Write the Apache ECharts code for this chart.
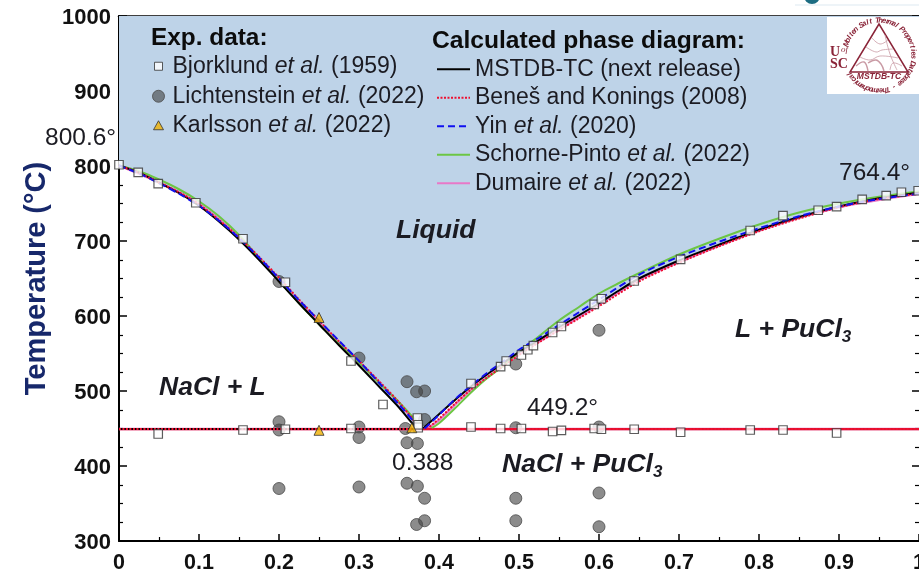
<!DOCTYPE html>
<html><head><meta charset="utf-8">
<style>html,body{margin:0;padding:0;background:#fff}#c{width:919px;height:575px}</style>
<script src="https://cdn.jsdelivr.net/npm/echarts@6/dist/echarts.min.js"></script>
</head><body><div id="c"></div>
<script>
const bjorklund=[[0,801.7],[.024,791.6],[.049,776.4],[.096,751],[.155,703],[.208,645],[.049,442.7],[.155,448],[.208,449],[.29,450],[.29,540],[.33,482],[.373,464],[.374,451],[.374,455],[.44,510],[.44,452],[.477,532.5],[.484,540],[.477,450],[.503,548],[.503,450],[.511,555],[.518,560.4],[.542,578],[.542,446],[.553,586],[.553,447.6],[.594,615.6],[.603,623],[.594,450],[.603,449],[.644,449],[.702,445],[.789,448],[.83,448],[.897,444],[.644,646.7],[.702,675.6],[.789,714],[.83,733.8],[.874,741],[.897,745.8],[.929,755.5],[.959,760.5],[.978,765],[.999,767]];
const lichtenstein=[[.2,459],[.2,448],[.2,370],[.2,646],[.3,544],[.3,452],[.3,438],[.3,372],[.36,512.4],[.372,499],[.382,500],[.382,462],[.358,450],[.36,431],[.373,430],[.36,377],[.373,373],[.382,357],[.382,327],[.372,322],[.496,536],[.496,451],[.496,357],[.496,327],[.6,581],[.6,452],[.6,364],[.6,319]];
const karlsson=[[.25,598],[.25,447.6],[.366,451]];
const eutecticLeft=[[0,449.2],[.38,449.2]];
const eutecticFull=[[0,449.2],[1,449.2]];
const mstdbLeft=[[0,800.6],[.025,791],[.05,778],[.075,764],[.1,747],[.125,726],[.15,702],[.175,675],[.2,646],[.225,617],[.25,589],[.275,561],[.3,534],[.325,506],[.35,478],[.37,453],[.376,449.2]];
const mstdbRight=[[.38,450],[.4,469],[.42,488],[.44,506],[.46,522],[.48,537],[.5,552],[.525,568],[.55,585],[.575,601],[.6,617],[.625,634],[.65,650],[.7,674],[.75,695],[.8,715],[.85,732],[.9,746],[.95,757],[1,764.4]];
const benesLeft=[[0,800.6],[.025,791],[.05,778],[.075,765],[.1,749],[.125,728],[.15,705],[.175,679],[.2,651],[.225,622],[.25,594],[.275,566],[.3,540],[.325,513],[.35,485],[.372,456]];
const benesRight=[[.385,449.2],[.4,463],[.42,483],[.44,502],[.46,518],[.48,533],[.5,548],[.525,565],[.55,581],[.575,597],[.6,613],[.65,646],[.7,671],[.75,693],[.8,713],[.85,730],[.9,745],[.95,756],[1,763]];
const yinLeft=[[0,800.6],[.025,790],[.05,777],[.075,763],[.1,747],[.125,727],[.15,704],[.175,678],[.2,650],[.225,621],[.25,594],[.275,567],[.3,540],[.325,511],[.35,482],[.372,455]];
const yinRight=[[.382,450],[.4,468],[.42,489],[.44,507],[.46,524],[.48,539],[.5,555],[.525,571],[.55,588],[.575,605],[.6,622],[.65,655],[.7,679],[.75,699],[.8,717],[.85,733],[.9,746],[.95,756],[1,763]];
const schorneLeft=[[0,800.6],[.025,793],[.05,782],[.075,769],[.1,753],[.125,733],[.15,708],[.175,677],[.2,647],[.225,617],[.25,589],[.275,563],[.3,538],[.325,511],[.35,485],[.375,456]];
const schorneRight=[[.39,450],[.4,457],[.42,477],[.44,498],[.46,517],[.48,533],[.5,552],[.525,573],[.55,594],[.575,612],[.6,630],[.625,644],[.65,657],[.7,682],[.75,703],[.8,722],[.85,738],[.9,750],[.95,759],[1,766]];
const dumaireLeft=[[0,800.6],[.05,778],[.1,749],[.15,705],[.2,648],[.25,592],[.3,539],[.35,484],[.372,456]];
const dumaireRight=[[.385,450],[.4,461],[.42,482],[.44,502],[.46,518],[.48,534],[.5,549],[.525,566],[.55,582],[.6,615],[.65,648],[.7,672],[.8,714],[.9,745],[1,763]];
const names={bj:'Bjorklund et al. (1959)',li:'Lichtenstein et al. (2022)',ka:'Karlsson et al. (2022)',ms:'MSTDB-TC (next release)',be:'Beneš and Konings (2008)',yi:'Yin et al. (2020)',sc:'Schorne-Pinto et al. (2022)',du:'Dumaire et al. (2022)'};
const F='"Liberation Sans",Arial,sans-serif', INK='#1b1b22', NAVY='#17286b', MAROON='#8a2438';
const gap=['-','-'];
const curve=(l,r,s)=>[...l,gap,...r,gap,...s];
const fillData=[...mstdbLeft,...mstdbRight];
function lineSeries(name,data,color,width,type,z){return {name,type:'line',data,symbol:'none',showSymbol:false,smooth:.3,connectNulls:false,z,clip:true,lineStyle:{color,width,type,cap:'butt'},itemStyle:{color}};}
const legendFmt=n=>{const m=n.match(/^(.*?)\s*et al\.\s*(.*)$/);return m?`{a|${m[1]} }{i|et al.}{a| ${m[2]}}`:`{a|${n}}`;};
const legendRich={a:{fontFamily:F,fontSize:23,color:INK,lineHeight:28.5,height:28.5},i:{fontFamily:F,fontSize:23,fontStyle:'italic',color:INK,lineHeight:28.5,height:28.5}};
const label=(x,y,text,extra)=>({type:'text',x,y,z:50,silent:true,style:Object.assign({text,fontFamily:F,fontSize:24.5,fill:INK,verticalAlign:'middle',textAlign:'left'},extra||{})});
const phaseRich={p:{fontFamily:F,fontSize:26.5,fontWeight:'bold',fontStyle:'italic',color:'#111'},s:{fontFamily:F,fontSize:17,fontWeight:'bold',fontStyle:'italic',color:'#111',verticalAlign:'bottom',padding:[14,0,0,0]}};
const ringText='Molten Salt Thermal Properties Database - Thermochemical';
const ring=[...ringText].map((ch,i)=>{const deg=-160+i*(308/(ringText.length-1)),t=deg*Math.PI/180;return {type:'text',x:879+34.5*Math.cos(t),y:55.5+35*Math.sin(t),rotation:-(t+Math.PI/2),z:61,silent:true,style:{text:ch,fontFamily:F,fontSize:7.5,fontWeight:'bold',fontStyle:'italic',fill:MAROON,textAlign:'center',verticalAlign:'middle'}};});
const contour=(pts,w)=>({type:'polyline',z:61,silent:true,shape:{points:pts,smooth:.4},style:{stroke:'#c99aa4',lineWidth:w||.8,fill:null}});
const oneLegend=(name,top,left,w,h,pad)=>({show:true,orient:'vertical',left,top,itemGap:0,itemWidth:w,itemHeight:h,padding:0,selectedMode:false,data:[name],formatter:legendFmt,textStyle:{rich:legendRich,padding:[0,0,0,pad]},itemStyle:{borderWidth:1}});
const chart=echarts.init(document.getElementById('c'),null,{renderer:'canvas'});
chart.setOption({
 animation:false,backgroundColor:'#fff',
 grid:{left:119,top:16,right:0,bottom:34,containLabel:false,outerBoundsMode:'none'},
 xAxis:[{type:'value',min:0,max:1,interval:.1,position:'bottom',
   axisLine:{onZero:false,lineStyle:{color:'#000',width:2}},
   axisTick:{inside:true,length:7,lineStyle:{color:'#000',width:1.5}},
   minorTick:{show:true,splitNumber:2,length:4,lineStyle:{color:'#000',width:1.2}},
   splitLine:{show:false},minorSplitLine:{show:false},
   axisLabel:{margin:11,fontFamily:F,fontSize:21.5,fontWeight:'bold',color:'#111',hideOverlap:false,showMinLabel:true,showMaxLabel:true,formatter:v=>v===0?'0':v===1?'1':v.toFixed(1)}},
  {type:'value',min:0,max:1,interval:.1,position:'top',
   axisLine:{onZero:false,lineStyle:{color:'#000',width:2.5}},
   axisTick:{inside:true,length:7,lineStyle:{color:'#000',width:1.5}},
   minorTick:{show:true,splitNumber:2,length:4,lineStyle:{color:'#000',width:1.2}},
   splitLine:{show:false},axisLabel:{show:false}}],
 yAxis:[{type:'value',min:300,max:1000,interval:100,position:'left',
   name:'Temperature (°C)',nameLocation:'middle',nameGap:57,nameTextStyle:{fontFamily:F,fontSize:29,fontWeight:'bold',color:NAVY},
   axisLine:{onZero:false,lineStyle:{color:'#000',width:2}},
   axisTick:{inside:true,length:8,lineStyle:{color:'#000',width:1.5}},
   minorTick:{show:true,splitNumber:4,length:4,lineStyle:{color:'#000',width:1.2}},
   splitLine:{show:false},minorSplitLine:{show:false},
   axisLabel:{margin:8,verticalAlign:'top',padding:[-9,0,0,0],fontFamily:F,fontSize:22,fontWeight:'bold',color:'#111',formatter:v=>String(v)}},
  {type:'value',min:300,max:1000,interval:100,position:'right',
   axisLine:{show:false,onZero:false},
   axisTick:{show:true,inside:true,length:7,lineStyle:{color:'#000',width:1.5}},
   minorTick:{show:true,splitNumber:4,length:4,lineStyle:{color:'#000',width:1.2}},
   splitLine:{show:false},axisLabel:{show:false}}],
 legend:[
  oneLegend(names.bj,52,154,8,8,5),
  oneLegend(names.li,82,152,12,12,3),
  oneLegend(names.ka,111,153,10,9,4),
  {show:true,orient:'vertical',left:436,top:55,itemGap:0,itemWidth:33,itemHeight:1,padding:0,selectedMode:false,
   data:[names.ms,names.be,names.yi,names.sc,names.du],formatter:legendFmt,textStyle:{rich:legendRich},itemStyle:{opacity:0}}
 ],
 series:[
  {name:'Liquid region',type:'line',data:fillData,symbol:'none',smooth:.3,z:1,lineStyle:{width:0},areaStyle:{origin:'end',color:'#BED3E8',opacity:1},silent:true},
  {name:names.li,type:'scatter',data:lichtenstein,symbol:'circle',symbolSize:12,z:3,clip:false,itemStyle:{color:'rgba(66,66,66,0.76)',borderColor:'#4a4a4a',borderWidth:1}},
  lineSeries(names.du,curve(dumaireLeft,dumaireRight,eutecticFull),'#E878C8',2.5,'solid',4),
  lineSeries('Eutectic',eutecticFull,'#E01030',2.2,'solid',4.5),
  lineSeries(names.sc,curve(schorneLeft,schorneRight,[]),'#6CC644',2,'solid',5),
  lineSeries(names.ms,curve(mstdbLeft,mstdbRight,eutecticLeft),'#000000',2,'solid',6),
  lineSeries(names.be,curve(benesLeft,benesRight,eutecticFull),'#EE1030',2,[2,1.5],7),
  lineSeries(names.yi,curve(yinLeft,yinRight,[]),'#1010F0',2,[7,4],8),
  {name:names.bj,type:'scatter',data:bjorklund,symbol:'rect',symbolSize:8.5,z:9,clip:false,itemStyle:{color:'#fff',borderColor:'#333',borderWidth:1.2}},
  {name:names.ka,type:'scatter',data:karlsson,symbol:'triangle',symbolSize:10,z:10,clip:false,itemStyle:{color:'#F0B000',borderColor:'#333',borderWidth:1}},
  {type:'line',xAxisIndex:1,yAxisIndex:1,data:[],silent:true}
 ],
 graphic:{elements:[
  label(151,38,'Exp. data:',{fontWeight:'bold',fontSize:24.4,fill:'#0c0c0c'}),
  label(432,41,'Calculated phase diagram:',{fontWeight:'bold',fontSize:24.6,fill:'#0c0c0c'}),
  label(45,138,'800.6°'),
  label(839,173,'764.4°'),
  label(527,408,'449.2°'),
  label(392,463,'0.388'),
  label(396,231,'{p|Liquid}',{rich:phaseRich}),
  label(159,388,'{p|NaCl + L}',{rich:phaseRich}),
  label(735,330,'{p|L + PuCl}{s|3}',{rich:phaseRich}),
  label(502,465,'{p|NaCl + PuCl}{s|3}',{rich:phaseRich}),
  {type:'rect',z:60,silent:true,shape:{x:827,y:17,width:92,height:77},style:{fill:'#fff'}},
  {type:'polygon',z:61,silent:true,shape:{points:[[879,24],[850,72],[908,72]]},style:{fill:'#fff',stroke:MAROON,lineWidth:1.5}},
  contour([[872,38],[880,44],[888,40]]),contour([[866,47],[876,52],[882,50],[893,49]]),contour([[860,57],[870,60],[880,56],[898,58]]),
  contour([[856,66],[864,62],[868,71]],1.4),contour([[868,63],[876,60],[881,64],[884,71]],1.4),contour([[890,70],[893,63],[902,66]]),contour([[885,35],[890,54],[897,70]]),
  ...ring,
  {type:'text',x:879,y:76.5,z:62,silent:true,style:{text:'MSTDB-TC',fontFamily:F,fontSize:8.5,fontWeight:'bold',fontStyle:'italic',fill:MAROON,textAlign:'center',verticalAlign:'middle'}},
  {type:'text',x:830,y:52,z:62,silent:true,style:{text:'U',fontFamily:'"Liberation Serif",serif',fontSize:14,fontWeight:'bold',fill:MAROON,verticalAlign:'middle'}},
  {type:'text',x:841,y:50,z:62,silent:true,style:{text:'of',fontFamily:'"Liberation Serif",serif',fontSize:9,fontStyle:'italic',fill:MAROON,verticalAlign:'middle'}},
  {type:'text',x:830,y:64,z:62,silent:true,style:{text:'SC',fontFamily:'"Liberation Serif",serif',fontSize:14,fontWeight:'bold',fill:MAROON,verticalAlign:'middle'}},
  {type:'rect',z:59,silent:true,shape:{x:795,y:4,width:124,height:2},style:{fill:'#eef4f8'}},
  {type:'circle',z:60,silent:true,shape:{cx:812,cy:-4,r:8},style:{fill:'#1c6c82'}}
 ]}
});
</script></body></html>
